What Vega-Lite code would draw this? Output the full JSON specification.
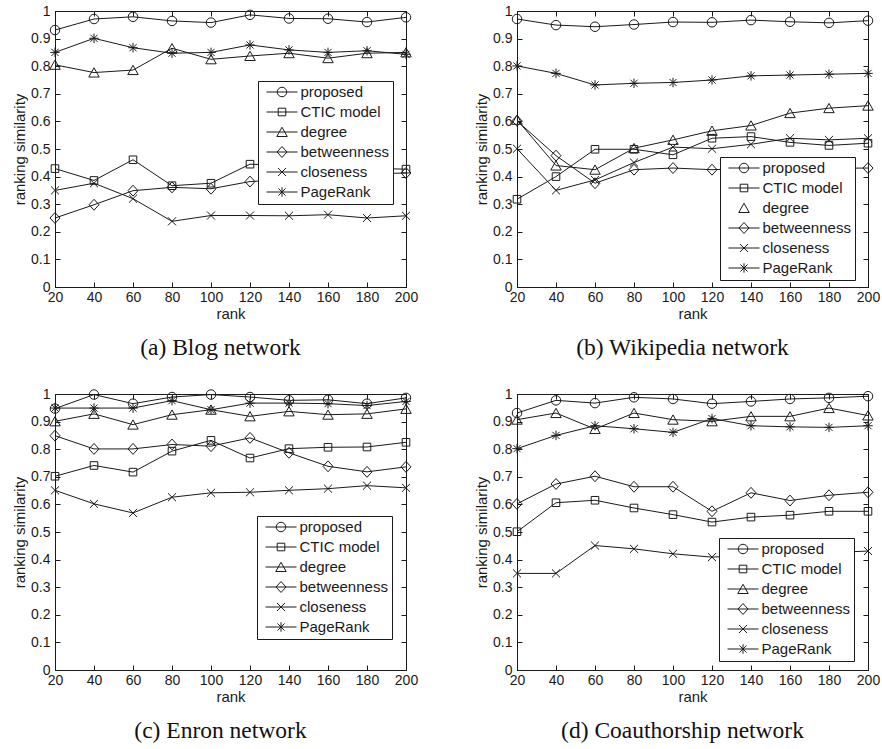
{
"$schema": "https://vega.github.io/schema/vega-lite/v6.json",
"background": "white",
"padding": {"left": 12, "top": 3, "right": 0, "bottom": 0},
"data": {"values": [
{"net":"a","method":"proposed","rank":20,"sim":0.931},{"net":"a","method":"proposed","rank":40,"sim":0.971},{"net":"a","method":"proposed","rank":60,"sim":0.979},{"net":"a","method":"proposed","rank":80,"sim":0.964},{"net":"a","method":"proposed","rank":100,"sim":0.958},{"net":"a","method":"proposed","rank":120,"sim":0.986},{"net":"a","method":"proposed","rank":140,"sim":0.973},{"net":"a","method":"proposed","rank":160,"sim":0.972},{"net":"a","method":"proposed","rank":180,"sim":0.960},{"net":"a","method":"proposed","rank":200,"sim":0.977},
{"net":"a","method":"CTIC model","rank":20,"sim":0.429},{"net":"a","method":"CTIC model","rank":40,"sim":0.386},{"net":"a","method":"CTIC model","rank":60,"sim":0.461},{"net":"a","method":"CTIC model","rank":80,"sim":0.367},{"net":"a","method":"CTIC model","rank":100,"sim":0.376},{"net":"a","method":"CTIC model","rank":120,"sim":0.445},{"net":"a","method":"CTIC model","rank":140,"sim":0.44},{"net":"a","method":"CTIC model","rank":160,"sim":0.435},{"net":"a","method":"CTIC model","rank":180,"sim":0.43},{"net":"a","method":"CTIC model","rank":200,"sim":0.427},
{"net":"a","method":"degree","rank":20,"sim":0.805},{"net":"a","method":"degree","rank":40,"sim":0.777},{"net":"a","method":"degree","rank":60,"sim":0.786},{"net":"a","method":"degree","rank":80,"sim":0.865},{"net":"a","method":"degree","rank":100,"sim":0.825},{"net":"a","method":"degree","rank":120,"sim":0.837},{"net":"a","method":"degree","rank":140,"sim":0.847},{"net":"a","method":"degree","rank":160,"sim":0.829},{"net":"a","method":"degree","rank":180,"sim":0.847},{"net":"a","method":"degree","rank":200,"sim":0.850},
{"net":"a","method":"betweenness","rank":20,"sim":0.250},{"net":"a","method":"betweenness","rank":40,"sim":0.298},{"net":"a","method":"betweenness","rank":60,"sim":0.349},{"net":"a","method":"betweenness","rank":80,"sim":0.361},{"net":"a","method":"betweenness","rank":100,"sim":0.356},{"net":"a","method":"betweenness","rank":120,"sim":0.382},{"net":"a","method":"betweenness","rank":140,"sim":0.39},{"net":"a","method":"betweenness","rank":160,"sim":0.40},{"net":"a","method":"betweenness","rank":180,"sim":0.41},{"net":"a","method":"betweenness","rank":200,"sim":0.413},
{"net":"a","method":"closeness","rank":20,"sim":0.350},{"net":"a","method":"closeness","rank":40,"sim":0.376},{"net":"a","method":"closeness","rank":60,"sim":0.320},{"net":"a","method":"closeness","rank":80,"sim":0.238},{"net":"a","method":"closeness","rank":100,"sim":0.259},{"net":"a","method":"closeness","rank":120,"sim":0.259},{"net":"a","method":"closeness","rank":140,"sim":0.258},{"net":"a","method":"closeness","rank":160,"sim":0.262},{"net":"a","method":"closeness","rank":180,"sim":0.250},{"net":"a","method":"closeness","rank":200,"sim":0.258},
{"net":"a","method":"PageRank","rank":20,"sim":0.850},{"net":"a","method":"PageRank","rank":40,"sim":0.901},{"net":"a","method":"PageRank","rank":60,"sim":0.867},{"net":"a","method":"PageRank","rank":80,"sim":0.847},{"net":"a","method":"PageRank","rank":100,"sim":0.850},{"net":"a","method":"PageRank","rank":120,"sim":0.877},{"net":"a","method":"PageRank","rank":140,"sim":0.859},{"net":"a","method":"PageRank","rank":160,"sim":0.850},{"net":"a","method":"PageRank","rank":180,"sim":0.856},{"net":"a","method":"PageRank","rank":200,"sim":0.843},
{"net":"b","method":"proposed","rank":20,"sim":0.971},{"net":"b","method":"proposed","rank":40,"sim":0.949},{"net":"b","method":"proposed","rank":60,"sim":0.943},{"net":"b","method":"proposed","rank":80,"sim":0.951},{"net":"b","method":"proposed","rank":100,"sim":0.960},{"net":"b","method":"proposed","rank":120,"sim":0.959},{"net":"b","method":"proposed","rank":140,"sim":0.967},{"net":"b","method":"proposed","rank":160,"sim":0.961},{"net":"b","method":"proposed","rank":180,"sim":0.957},{"net":"b","method":"proposed","rank":200,"sim":0.965},
{"net":"b","method":"CTIC model","rank":20,"sim":0.318},{"net":"b","method":"CTIC model","rank":40,"sim":0.400},{"net":"b","method":"CTIC model","rank":60,"sim":0.499},{"net":"b","method":"CTIC model","rank":80,"sim":0.499},{"net":"b","method":"CTIC model","rank":100,"sim":0.479},{"net":"b","method":"CTIC model","rank":120,"sim":0.539},{"net":"b","method":"CTIC model","rank":140,"sim":0.545},{"net":"b","method":"CTIC model","rank":160,"sim":0.524},{"net":"b","method":"CTIC model","rank":180,"sim":0.513},{"net":"b","method":"CTIC model","rank":200,"sim":0.521},
{"net":"b","method":"degree","rank":20,"sim":0.606},{"net":"b","method":"degree","rank":40,"sim":0.440},{"net":"b","method":"degree","rank":60,"sim":0.425},{"net":"b","method":"degree","rank":80,"sim":0.503},{"net":"b","method":"degree","rank":100,"sim":0.533},{"net":"b","method":"degree","rank":120,"sim":0.566},{"net":"b","method":"degree","rank":140,"sim":0.585},{"net":"b","method":"degree","rank":160,"sim":0.630},{"net":"b","method":"degree","rank":180,"sim":0.648},{"net":"b","method":"degree","rank":200,"sim":0.657},
{"net":"b","method":"betweenness","rank":20,"sim":0.602},{"net":"b","method":"betweenness","rank":40,"sim":0.476},{"net":"b","method":"betweenness","rank":60,"sim":0.376},{"net":"b","method":"betweenness","rank":80,"sim":0.425},{"net":"b","method":"betweenness","rank":100,"sim":0.431},{"net":"b","method":"betweenness","rank":120,"sim":0.425},{"net":"b","method":"betweenness","rank":140,"sim":0.43},{"net":"b","method":"betweenness","rank":160,"sim":0.43},{"net":"b","method":"betweenness","rank":180,"sim":0.43},{"net":"b","method":"betweenness","rank":200,"sim":0.431},
{"net":"b","method":"closeness","rank":20,"sim":0.501},{"net":"b","method":"closeness","rank":40,"sim":0.350},{"net":"b","method":"closeness","rank":60,"sim":0.388},{"net":"b","method":"closeness","rank":80,"sim":0.451},{"net":"b","method":"closeness","rank":100,"sim":0.507},{"net":"b","method":"closeness","rank":120,"sim":0.501},{"net":"b","method":"closeness","rank":140,"sim":0.517},{"net":"b","method":"closeness","rank":160,"sim":0.539},{"net":"b","method":"closeness","rank":180,"sim":0.533},{"net":"b","method":"closeness","rank":200,"sim":0.539},
{"net":"b","method":"PageRank","rank":20,"sim":0.801},{"net":"b","method":"PageRank","rank":40,"sim":0.774},{"net":"b","method":"PageRank","rank":60,"sim":0.732},{"net":"b","method":"PageRank","rank":80,"sim":0.738},{"net":"b","method":"PageRank","rank":100,"sim":0.741},{"net":"b","method":"PageRank","rank":120,"sim":0.750},{"net":"b","method":"PageRank","rank":140,"sim":0.765},{"net":"b","method":"PageRank","rank":160,"sim":0.768},{"net":"b","method":"PageRank","rank":180,"sim":0.771},{"net":"b","method":"PageRank","rank":200,"sim":0.774},
{"net":"c","method":"proposed","rank":20,"sim":0.947},{"net":"c","method":"proposed","rank":40,"sim":0.998},{"net":"c","method":"proposed","rank":60,"sim":0.965},{"net":"c","method":"proposed","rank":80,"sim":0.989},{"net":"c","method":"proposed","rank":100,"sim":0.998},{"net":"c","method":"proposed","rank":120,"sim":0.989},{"net":"c","method":"proposed","rank":140,"sim":0.977},{"net":"c","method":"proposed","rank":160,"sim":0.979},{"net":"c","method":"proposed","rank":180,"sim":0.965},{"net":"c","method":"proposed","rank":200,"sim":0.986},
{"net":"c","method":"CTIC model","rank":20,"sim":0.702},{"net":"c","method":"CTIC model","rank":40,"sim":0.741},{"net":"c","method":"CTIC model","rank":60,"sim":0.717},{"net":"c","method":"CTIC model","rank":80,"sim":0.793},{"net":"c","method":"CTIC model","rank":100,"sim":0.832},{"net":"c","method":"CTIC model","rank":120,"sim":0.768},{"net":"c","method":"CTIC model","rank":140,"sim":0.802},{"net":"c","method":"CTIC model","rank":160,"sim":0.807},{"net":"c","method":"CTIC model","rank":180,"sim":0.808},{"net":"c","method":"CTIC model","rank":200,"sim":0.825},
{"net":"c","method":"degree","rank":20,"sim":0.901},{"net":"c","method":"degree","rank":40,"sim":0.928},{"net":"c","method":"degree","rank":60,"sim":0.889},{"net":"c","method":"degree","rank":80,"sim":0.925},{"net":"c","method":"degree","rank":100,"sim":0.943},{"net":"c","method":"degree","rank":120,"sim":0.919},{"net":"c","method":"degree","rank":140,"sim":0.937},{"net":"c","method":"degree","rank":160,"sim":0.925},{"net":"c","method":"degree","rank":180,"sim":0.928},{"net":"c","method":"degree","rank":200,"sim":0.946},
{"net":"c","method":"betweenness","rank":20,"sim":0.849},{"net":"c","method":"betweenness","rank":40,"sim":0.801},{"net":"c","method":"betweenness","rank":60,"sim":0.801},{"net":"c","method":"betweenness","rank":80,"sim":0.817},{"net":"c","method":"betweenness","rank":100,"sim":0.811},{"net":"c","method":"betweenness","rank":120,"sim":0.841},{"net":"c","method":"betweenness","rank":140,"sim":0.787},{"net":"c","method":"betweenness","rank":160,"sim":0.738},{"net":"c","method":"betweenness","rank":180,"sim":0.718},{"net":"c","method":"betweenness","rank":200,"sim":0.736},
{"net":"c","method":"closeness","rank":20,"sim":0.651},{"net":"c","method":"closeness","rank":40,"sim":0.602},{"net":"c","method":"closeness","rank":60,"sim":0.569},{"net":"c","method":"closeness","rank":80,"sim":0.626},{"net":"c","method":"closeness","rank":100,"sim":0.642},{"net":"c","method":"closeness","rank":120,"sim":0.644},{"net":"c","method":"closeness","rank":140,"sim":0.651},{"net":"c","method":"closeness","rank":160,"sim":0.657},{"net":"c","method":"closeness","rank":180,"sim":0.668},{"net":"c","method":"closeness","rank":200,"sim":0.660},
{"net":"c","method":"PageRank","rank":20,"sim":0.949},{"net":"c","method":"PageRank","rank":40,"sim":0.949},{"net":"c","method":"PageRank","rank":60,"sim":0.949},{"net":"c","method":"PageRank","rank":80,"sim":0.976},{"net":"c","method":"PageRank","rank":100,"sim":0.943},{"net":"c","method":"PageRank","rank":120,"sim":0.967},{"net":"c","method":"PageRank","rank":140,"sim":0.967},{"net":"c","method":"PageRank","rank":160,"sim":0.965},{"net":"c","method":"PageRank","rank":180,"sim":0.958},{"net":"c","method":"PageRank","rank":200,"sim":0.973},
{"net":"d","method":"proposed","rank":20,"sim":0.931},{"net":"d","method":"proposed","rank":40,"sim":0.977},{"net":"d","method":"proposed","rank":60,"sim":0.967},{"net":"d","method":"proposed","rank":80,"sim":0.988},{"net":"d","method":"proposed","rank":100,"sim":0.982},{"net":"d","method":"proposed","rank":120,"sim":0.965},{"net":"d","method":"proposed","rank":140,"sim":0.973},{"net":"d","method":"proposed","rank":160,"sim":0.982},{"net":"d","method":"proposed","rank":180,"sim":0.986},{"net":"d","method":"proposed","rank":200,"sim":0.992},
{"net":"d","method":"CTIC model","rank":20,"sim":0.501},{"net":"d","method":"CTIC model","rank":40,"sim":0.606},{"net":"d","method":"CTIC model","rank":60,"sim":0.615},{"net":"d","method":"CTIC model","rank":80,"sim":0.587},{"net":"d","method":"CTIC model","rank":100,"sim":0.563},{"net":"d","method":"CTIC model","rank":120,"sim":0.536},{"net":"d","method":"CTIC model","rank":140,"sim":0.554},{"net":"d","method":"CTIC model","rank":160,"sim":0.561},{"net":"d","method":"CTIC model","rank":180,"sim":0.575},{"net":"d","method":"CTIC model","rank":200,"sim":0.575},
{"net":"d","method":"degree","rank":20,"sim":0.907},{"net":"d","method":"degree","rank":40,"sim":0.931},{"net":"d","method":"degree","rank":60,"sim":0.873},{"net":"d","method":"degree","rank":80,"sim":0.931},{"net":"d","method":"degree","rank":100,"sim":0.907},{"net":"d","method":"degree","rank":120,"sim":0.901},{"net":"d","method":"degree","rank":140,"sim":0.919},{"net":"d","method":"degree","rank":160,"sim":0.919},{"net":"d","method":"degree","rank":180,"sim":0.949},{"net":"d","method":"degree","rank":200,"sim":0.922},
{"net":"d","method":"betweenness","rank":20,"sim":0.602},{"net":"d","method":"betweenness","rank":40,"sim":0.674},{"net":"d","method":"betweenness","rank":60,"sim":0.702},{"net":"d","method":"betweenness","rank":80,"sim":0.664},{"net":"d","method":"betweenness","rank":100,"sim":0.664},{"net":"d","method":"betweenness","rank":120,"sim":0.575},{"net":"d","method":"betweenness","rank":140,"sim":0.642},{"net":"d","method":"betweenness","rank":160,"sim":0.614},{"net":"d","method":"betweenness","rank":180,"sim":0.633},{"net":"d","method":"betweenness","rank":200,"sim":0.644},
{"net":"d","method":"closeness","rank":20,"sim":0.350},{"net":"d","method":"closeness","rank":40,"sim":0.350},{"net":"d","method":"closeness","rank":60,"sim":0.451},{"net":"d","method":"closeness","rank":80,"sim":0.439},{"net":"d","method":"closeness","rank":100,"sim":0.421},{"net":"d","method":"closeness","rank":120,"sim":0.409},{"net":"d","method":"closeness","rank":140,"sim":0.415},{"net":"d","method":"closeness","rank":160,"sim":0.42},{"net":"d","method":"closeness","rank":180,"sim":0.425},{"net":"d","method":"closeness","rank":200,"sim":0.431},
{"net":"d","method":"PageRank","rank":20,"sim":0.802},{"net":"d","method":"PageRank","rank":40,"sim":0.850},{"net":"d","method":"PageRank","rank":60,"sim":0.885},{"net":"d","method":"PageRank","rank":80,"sim":0.874},{"net":"d","method":"PageRank","rank":100,"sim":0.861},{"net":"d","method":"PageRank","rank":120,"sim":0.911},{"net":"d","method":"PageRank","rank":140,"sim":0.885},{"net":"d","method":"PageRank","rank":160,"sim":0.881},{"net":"d","method":"PageRank","rank":180,"sim":0.879},{"net":"d","method":"PageRank","rank":200,"sim":0.885}
]},
"columns": 2,
"spacing": {"row": 107, "column": 111},
"bounds": "flush",
"resolve": {"scale": {"shape": "independent"}, "legend": {"shape": "independent"}},
"concat": [
{
 "width": 351, "height": 276,
 "transform": [{"filter": "datum.net === 'a'"}],
 "title": {"text": "(a) Blog network"},
 "layer": [
  {"mark": {"type": "line", "color": "#1a1a1a", "strokeWidth": 1},
   "encoding": {
    "x": {"field": "rank", "type": "quantitative", "scale": {"domain": [20, 200], "nice": false, "zero": false}, "axis": {"orient": "bottom", "values": [20,40,60,80,100,120,140,160,180,200], "title": "rank"}},
    "y": {"field": "sim", "type": "quantitative", "scale": {"domain": [0, 1], "nice": false}, "axis": {"orient": "left", "values": [0,0.1,0.2,0.3,0.4,0.5,0.6,0.7,0.8,0.9,1], "format": "~g", "title": "ranking similarity"}},
    "detail": {"field": "method"}}},
  {"mark": {"type": "point", "filled": false, "size": 90, "opacity": 1, "color": "#1a1a1a", "strokeWidth": 1},
   "encoding": {
    "x": {"field": "rank", "type": "quantitative", "scale": {"domain": [20, 200], "nice": false, "zero": false}, "axis": {"orient": "top", "values": [20,40,60,80,100,120,140,160,180,200], "labels": false, "title": null}},
    "y": {"field": "sim", "type": "quantitative", "scale": {"domain": [0, 1], "nice": false}, "axis": {"orient": "right", "values": [0,0.1,0.2,0.3,0.4,0.5,0.6,0.7,0.8,0.9,1], "labels": false, "title": null}},
    "shape": {"field": "method", "type": "nominal", "legend": null,
      "scale": {"domain": ["proposed","CTIC model","degree","betweenness","closeness","PageRank"], "range": ["circle","M-0.8,-0.8H0.8V0.8H-0.8Z","M0,-1L1.1,0.95H-1.1Z","M0,-1.15L1.05,0L0,1.15L-1.05,0Z","M-0.85,-0.85L0.85,0.85M-0.85,0.85L0.85,-0.85","M0,-1V1M-1,0H1M-0.75,-0.75L0.75,0.75M-0.75,0.75L0.75,-0.75"]}}}},
  {"mark": {"type": "point", "filled": false, "size": 90, "opacity": 0, "color": "#1a1a1a", "strokeWidth": 1},
   "encoding": {
    "x": {"field": "rank", "type": "quantitative", "scale": {"domain": [20, 200], "nice": false, "zero": false}, "axis": null},
    "y": {"field": "sim", "type": "quantitative", "scale": {"domain": [0, 1], "nice": false}, "axis": null},
    "shape": {"field": "method", "type": "nominal",
      "scale": {"domain": ["proposed","CTIC model","degree","betweenness","closeness","PageRank"], "range": ["M-3.27,0H3.27M-1,0A1,1,0,1,0,1,0A1,1,0,1,0,-1,0","M-3.27,0H3.27M-0.8,-0.8H0.8V0.8H-0.8Z","M-3.27,0H3.27M0,-1L1.1,0.95H-1.1Z","M-3.27,0H3.27M0,-1.15L1.05,0L0,1.15L-1.05,0Z","M-3.27,0H3.27M-0.85,-0.85L0.85,0.85M-0.85,0.85L0.85,-0.85","M-3.27,0H3.27M0,-1V1M-0.75,-0.75L0.75,0.75M-0.75,0.75L0.75,-0.75"]},
      "legend": {"orient": "none", "legendX": 203, "legendY": 70}}}}
 ],
 "resolve": {"axis": {"x": "independent", "y": "independent"}, "scale": {"shape": "independent"}}
},
{
 "width": 351, "height": 276,
 "transform": [{"filter": "datum.net === 'b'"}],
 "title": {"text": "(b) Wikipedia network"},
 "layer": [
  {"mark": {"type": "line", "color": "#1a1a1a", "strokeWidth": 1},
   "encoding": {
    "x": {"field": "rank", "type": "quantitative", "scale": {"domain": [20, 200], "nice": false, "zero": false}, "axis": {"orient": "bottom", "values": [20,40,60,80,100,120,140,160,180,200], "title": "rank"}},
    "y": {"field": "sim", "type": "quantitative", "scale": {"domain": [0, 1], "nice": false}, "axis": {"orient": "left", "values": [0,0.1,0.2,0.3,0.4,0.5,0.6,0.7,0.8,0.9,1], "format": "~g", "title": "ranking similarity"}},
    "detail": {"field": "method"}}},
  {"mark": {"type": "point", "filled": false, "size": 90, "opacity": 1, "color": "#1a1a1a", "strokeWidth": 1},
   "encoding": {
    "x": {"field": "rank", "type": "quantitative", "scale": {"domain": [20, 200], "nice": false, "zero": false}, "axis": {"orient": "top", "values": [20,40,60,80,100,120,140,160,180,200], "labels": false, "title": null}},
    "y": {"field": "sim", "type": "quantitative", "scale": {"domain": [0, 1], "nice": false}, "axis": {"orient": "right", "values": [0,0.1,0.2,0.3,0.4,0.5,0.6,0.7,0.8,0.9,1], "labels": false, "title": null}},
    "shape": {"field": "method", "type": "nominal", "legend": null,
      "scale": {"domain": ["proposed","CTIC model","degree","betweenness","closeness","PageRank"], "range": ["circle","M-0.8,-0.8H0.8V0.8H-0.8Z","M0,-1L1.1,0.95H-1.1Z","M0,-1.15L1.05,0L0,1.15L-1.05,0Z","M-0.85,-0.85L0.85,0.85M-0.85,0.85L0.85,-0.85","M0,-1V1M-1,0H1M-0.75,-0.75L0.75,0.75M-0.75,0.75L0.75,-0.75"]}}}},
  {"mark": {"type": "point", "filled": false, "size": 90, "opacity": 0, "color": "#1a1a1a", "strokeWidth": 1},
   "encoding": {
    "x": {"field": "rank", "type": "quantitative", "scale": {"domain": [20, 200], "nice": false, "zero": false}, "axis": null},
    "y": {"field": "sim", "type": "quantitative", "scale": {"domain": [0, 1], "nice": false}, "axis": null},
    "shape": {"field": "method", "type": "nominal",
      "scale": {"domain": ["proposed","CTIC model","degree","betweenness","closeness","PageRank"], "range": ["M-3.27,0H3.27M-1,0A1,1,0,1,0,1,0A1,1,0,1,0,-1,0","M-3.27,0H3.27M-0.8,-0.8H0.8V0.8H-0.8Z","M0,-1L1.1,0.95H-1.1Z","M-3.27,0H3.27M0,-1.15L1.05,0L0,1.15L-1.05,0Z","M-3.27,0H3.27M-0.85,-0.85L0.85,0.85M-0.85,0.85L0.85,-0.85","M-3.27,0H3.27M0,-1V1M-0.75,-0.75L0.75,0.75M-0.75,0.75L0.75,-0.75"]},
      "legend": {"orient": "none", "legendX": 203, "legendY": 146}}}}
 ],
 "resolve": {"axis": {"x": "independent", "y": "independent"}, "scale": {"shape": "independent"}}
},
{
 "width": 351, "height": 276,
 "transform": [{"filter": "datum.net === 'c'"}],
 "title": {"text": "(c) Enron network"},
 "layer": [
  {"mark": {"type": "line", "color": "#1a1a1a", "strokeWidth": 1},
   "encoding": {
    "x": {"field": "rank", "type": "quantitative", "scale": {"domain": [20, 200], "nice": false, "zero": false}, "axis": {"orient": "bottom", "values": [20,40,60,80,100,120,140,160,180,200], "title": "rank"}},
    "y": {"field": "sim", "type": "quantitative", "scale": {"domain": [0, 1], "nice": false}, "axis": {"orient": "left", "values": [0,0.1,0.2,0.3,0.4,0.5,0.6,0.7,0.8,0.9,1], "format": "~g", "title": "ranking similarity"}},
    "detail": {"field": "method"}}},
  {"mark": {"type": "point", "filled": false, "size": 90, "opacity": 1, "color": "#1a1a1a", "strokeWidth": 1},
   "encoding": {
    "x": {"field": "rank", "type": "quantitative", "scale": {"domain": [20, 200], "nice": false, "zero": false}, "axis": {"orient": "top", "values": [20,40,60,80,100,120,140,160,180,200], "labels": false, "title": null}},
    "y": {"field": "sim", "type": "quantitative", "scale": {"domain": [0, 1], "nice": false}, "axis": {"orient": "right", "values": [0,0.1,0.2,0.3,0.4,0.5,0.6,0.7,0.8,0.9,1], "labels": false, "title": null}},
    "shape": {"field": "method", "type": "nominal", "legend": null,
      "scale": {"domain": ["proposed","CTIC model","degree","betweenness","closeness","PageRank"], "range": ["circle","M-0.8,-0.8H0.8V0.8H-0.8Z","M0,-1L1.1,0.95H-1.1Z","M0,-1.15L1.05,0L0,1.15L-1.05,0Z","M-0.85,-0.85L0.85,0.85M-0.85,0.85L0.85,-0.85","M0,-1V1M-1,0H1M-0.75,-0.75L0.75,0.75M-0.75,0.75L0.75,-0.75"]}}}},
  {"mark": {"type": "point", "filled": false, "size": 90, "opacity": 0, "color": "#1a1a1a", "strokeWidth": 1},
   "encoding": {
    "x": {"field": "rank", "type": "quantitative", "scale": {"domain": [20, 200], "nice": false, "zero": false}, "axis": null},
    "y": {"field": "sim", "type": "quantitative", "scale": {"domain": [0, 1], "nice": false}, "axis": null},
    "shape": {"field": "method", "type": "nominal",
      "scale": {"domain": ["proposed","CTIC model","degree","betweenness","closeness","PageRank"], "range": ["M-3.27,0H3.27M-1,0A1,1,0,1,0,1,0A1,1,0,1,0,-1,0","M-3.27,0H3.27M-0.8,-0.8H0.8V0.8H-0.8Z","M-3.27,0H3.27M0,-1L1.1,0.95H-1.1Z","M-3.27,0H3.27M0,-1.15L1.05,0L0,1.15L-1.05,0Z","M-3.27,0H3.27M-0.85,-0.85L0.85,0.85M-0.85,0.85L0.85,-0.85","M-3.27,0H3.27M0,-1V1M-0.75,-0.75L0.75,0.75M-0.75,0.75L0.75,-0.75"]},
      "legend": {"orient": "none", "legendX": 202, "legendY": 122}}}}
 ],
 "resolve": {"axis": {"x": "independent", "y": "independent"}, "scale": {"shape": "independent"}}
},
{
 "width": 351, "height": 276,
 "transform": [{"filter": "datum.net === 'd'"}],
 "title": {"text": "(d) Coauthorship network"},
 "layer": [
  {"mark": {"type": "line", "color": "#1a1a1a", "strokeWidth": 1},
   "encoding": {
    "x": {"field": "rank", "type": "quantitative", "scale": {"domain": [20, 200], "nice": false, "zero": false}, "axis": {"orient": "bottom", "values": [20,40,60,80,100,120,140,160,180,200], "title": "rank"}},
    "y": {"field": "sim", "type": "quantitative", "scale": {"domain": [0, 1], "nice": false}, "axis": {"orient": "left", "values": [0,0.1,0.2,0.3,0.4,0.5,0.6,0.7,0.8,0.9,1], "format": "~g", "title": "ranking similarity"}},
    "detail": {"field": "method"}}},
  {"mark": {"type": "point", "filled": false, "size": 90, "opacity": 1, "color": "#1a1a1a", "strokeWidth": 1},
   "encoding": {
    "x": {"field": "rank", "type": "quantitative", "scale": {"domain": [20, 200], "nice": false, "zero": false}, "axis": {"orient": "top", "values": [20,40,60,80,100,120,140,160,180,200], "labels": false, "title": null}},
    "y": {"field": "sim", "type": "quantitative", "scale": {"domain": [0, 1], "nice": false}, "axis": {"orient": "right", "values": [0,0.1,0.2,0.3,0.4,0.5,0.6,0.7,0.8,0.9,1], "labels": false, "title": null}},
    "shape": {"field": "method", "type": "nominal", "legend": null,
      "scale": {"domain": ["proposed","CTIC model","degree","betweenness","closeness","PageRank"], "range": ["circle","M-0.8,-0.8H0.8V0.8H-0.8Z","M0,-1L1.1,0.95H-1.1Z","M0,-1.15L1.05,0L0,1.15L-1.05,0Z","M-0.85,-0.85L0.85,0.85M-0.85,0.85L0.85,-0.85","M0,-1V1M-1,0H1M-0.75,-0.75L0.75,0.75M-0.75,0.75L0.75,-0.75"]}}}},
  {"mark": {"type": "point", "filled": false, "size": 90, "opacity": 0, "color": "#1a1a1a", "strokeWidth": 1},
   "encoding": {
    "x": {"field": "rank", "type": "quantitative", "scale": {"domain": [20, 200], "nice": false, "zero": false}, "axis": null},
    "y": {"field": "sim", "type": "quantitative", "scale": {"domain": [0, 1], "nice": false}, "axis": null},
    "shape": {"field": "method", "type": "nominal",
      "scale": {"domain": ["proposed","CTIC model","degree","betweenness","closeness","PageRank"], "range": ["M-3.27,0H3.27M-1,0A1,1,0,1,0,1,0A1,1,0,1,0,-1,0","M-3.27,0H3.27M-0.8,-0.8H0.8V0.8H-0.8Z","M-3.27,0H3.27M0,-1L1.1,0.95H-1.1Z","M-3.27,0H3.27M0,-1.15L1.05,0L0,1.15L-1.05,0Z","M-3.27,0H3.27M-0.85,-0.85L0.85,0.85M-0.85,0.85L0.85,-0.85","M-3.27,0H3.27M0,-1V1M-0.75,-0.75L0.75,0.75M-0.75,0.75L0.75,-0.75"]},
      "legend": {"orient": "none", "legendX": 202, "legendY": 144}}}}
 ],
 "resolve": {"axis": {"x": "independent", "y": "independent"}, "scale": {"shape": "independent"}}
}
],
"config": {
 "view": {"stroke": "#1a1a1a", "strokeWidth": 1},
 "axis": {"domainColor": "#1a1a1a", "domainWidth": 1, "tickColor": "#1a1a1a", "tickWidth": 1, "tickSize": -5, "labelFont": "Liberation Sans", "labelFontSize": 14, "labelColor": "#1a1a1a", "titleFont": "Liberation Sans", "titleFontSize": 15, "titleFontWeight": "normal", "titleColor": "#1a1a1a", "grid": false, "labelFlush": false, "labelOverlap": false, "labelBound": false, "titlePadding": 3},
 "axisX": {"labelPadding": 8, "titlePadding": 2},
 "axisY": {"labelPadding": 10},
 "title": {"font": "Liberation Serif", "fontSize": 23.5, "fontWeight": "normal", "color": "#111111", "orient": "bottom", "anchor": "middle", "dx": -10, "offset": 15, "baseline": "top"},
 "legend": {"title": null, "strokeColor": "#1a1a1a", "fillColor": "white", "padding": 3.5, "cornerRadius": 0, "labelFont": "Liberation Sans", "labelFontSize": 15, "labelColor": "#1a1a1a", "rowPadding": 4, "symbolOffset": 13, "labelOffset": 11, "symbolSize": 90, "symbolStrokeWidth": 1, "symbolOpacity": 1, "symbolStrokeColor": "#1a1a1a", "symbolFillColor": "transparent", "labelLimit": 300}
}
}
